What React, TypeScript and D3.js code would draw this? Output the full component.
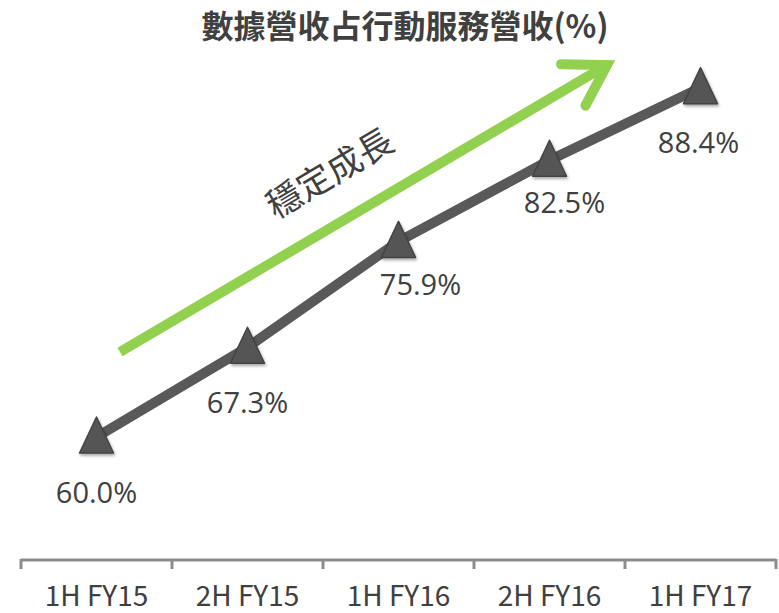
import React from 'react';
import * as d3 from 'd3';

const width = 779;
const height = 613;

const periods = ['1H FY15', '2H FY15', '1H FY16', '2H FY16', '1H FY17'];
const dataShare = [60.0, 67.3, 75.9, 82.5, 88.4];
const title = '數據營收占行動服務營收(%)';
const arrowLabel = '穩定成長';

// label nudges (px) so the value labels sit where the original puts them
const labelDx = [0, 0, 22, 15, -2];
const labelDy = [66, 66, 54, 53, 65];

const xScale = d3.scaleBand<string>().domain(periods).range([21, 776]);
const yScale = d3.scaleLinear().domain([50, 90]).range([560, 68]);

const textColor = '#404040';
const lineColor = '#595959';
const green = '#92D050';

function App() {
  const svgRef = React.useRef<SVGSVGElement>(null);

  React.useEffect(() => {
    const svg = d3.select(svgRef.current);
    svg.selectAll('*').remove();

    const cx = (d: string) => (xScale(d) as number) + xScale.bandwidth() / 2;
    const pts = periods.map((p, i) => ({ p, v: dataShare[i], i }));

    // title
    svg.append('text')
      .attr('x', 405).attr('y', 38)
      .attr('text-anchor', 'middle')
      .attr('font-family', '"Noto Sans CJK TC", sans-serif')
      .attr('font-weight', 'bold')
      .attr('font-size', 32)
      .attr('fill', textColor)
      .text(title);

    // axis
    const axis = svg.append('g').attr('transform', `translate(0,${yScale(50)})`);
    axis.append('line')
      .attr('x1', 21).attr('x2', 776)
      .attr('stroke', '#8c8c8c').attr('stroke-width', 3);
    const edges = [...periods.map(p => xScale(p) as number), 776];
    axis.selectAll('line.tick')
      .data(edges)
      .join('line')
      .attr('class', 'tick')
      .attr('x1', d => d).attr('x2', d => d)
      .attr('y1', -1).attr('y2', 9)
      .attr('stroke', '#8c8c8c').attr('stroke-width', 3);
    axis.selectAll('text')
      .data(periods)
      .join('text')
      .attr('x', d => cx(d))
      .attr('y', 46)
      .attr('text-anchor', 'middle')
      .attr('font-family', '"Liberation Sans Narrow", "Noto Sans CJK TC", sans-serif')
      .attr('font-size', 28)
      .attr('fill', textColor)
      .text(d => d);

    // green trend arrow
    const x0 = 120, y0 = 352, x1 = 607, y1 = 65;
    const ang = Math.atan2(y1 - y0, x1 - x0);
    const head = 46;
    const g = svg.append('g')
      .attr('stroke', green).attr('stroke-width', 10)
      .attr('fill', 'none').attr('stroke-linecap', 'round');
    g.append('line').attr('x1', x0).attr('y1', y0).attr('x2', x1 - 4 * Math.cos(ang)).attr('y2', y1 - 4 * Math.sin(ang))
      .attr('stroke-linecap', 'butt');
    const wing = (a: number) => [x1 - head * Math.cos(ang + a), y1 - head * Math.sin(ang + a)];
    const [ax, ay] = wing(0.55);
    const [bx, by] = wing(-0.55);
    g.append('path')
      .attr('stroke-linejoin', 'miter')
      .attr('d', `M${ax},${ay}L${x1},${y1}L${bx},${by}`);

    svg.append('text')
      .attr('transform', `translate(336,184) rotate(${(ang * 180) / Math.PI})`)
      .attr('text-anchor', 'middle')
      .attr('font-family', '"Noto Sans CJK TC", sans-serif')
      .attr('font-size', 35)
      .attr('fill', textColor)
      .text(arrowLabel);

    // data line
    const line = d3.line<{ p: string; v: number }>()
      .x(d => cx(d.p))
      .y(d => yScale(d.v));
    svg.append('path')
      .datum(pts)
      .attr('d', line)
      .attr('fill', 'none')
      .attr('stroke', lineColor)
      .attr('stroke-width', 10);

    const tri = 'M0,-20L17,16L-17,16Z';
    svg.selectAll('path.marker')
      .data(pts)
      .join('path')
      .attr('class', 'marker')
      .attr('transform', d => `translate(${cx(d.p)},${yScale(d.v)})`)
      .attr('d', tri)
      .attr('fill', '#555')
      .attr('stroke', '#444')
      .attr('stroke-width', 1.5)
      .attr('stroke-linejoin', 'round')
      .style('filter', 'drop-shadow(1px 2px 1.5px rgba(0,0,0,0.35))');

    svg.selectAll('text.val')
      .data(pts)
      .join('text')
      .attr('class', 'val')
      .attr('x', d => cx(d.p) + labelDx[d.i])
      .attr('y', d => yScale(d.v) + labelDy[d.i])
      .attr('text-anchor', 'middle')
      .attr('font-family', '"Open Sans", sans-serif')
      .attr('font-size', 29)
      .attr('fill', textColor)
      .text(d => `${d.v.toFixed(1)}%`);
  }, []);

  return (
    <svg
      ref={svgRef}
      width={width}
      height={height}
      viewBox={`0 0 ${width} ${height}`}
      style={{ position: 'absolute', left: 0, top: 0, background: '#fff' }}
    />
  );
}

export default App;
